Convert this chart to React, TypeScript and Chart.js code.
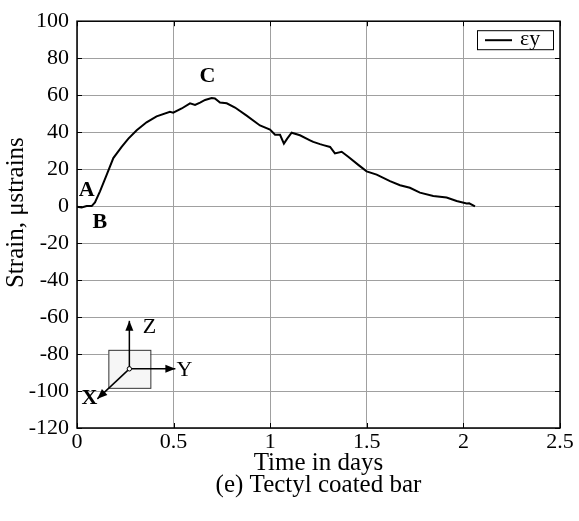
import React, { useEffect, useRef } from "react";
import { Chart, registerables } from "chart.js";

Chart.register(...registerables);

const timeDays: number[] = [0, 0.024, 0.05, 0.076, 0.093, 0.119, 0.154, 0.188, 0.231, 0.266, 0.309, 0.36, 0.412, 0.481, 0.498, 0.542, 0.585, 0.611, 0.637, 0.663, 0.697, 0.714, 0.74, 0.775, 0.818, 0.878, 0.947, 0.999, 1.025, 1.051, 1.071, 1.088, 1.111, 1.154, 1.206, 1.223, 1.258, 1.275, 1.31, 1.335, 1.37, 1.404, 1.456, 1.499, 1.551, 1.62, 1.672, 1.723, 1.775, 1.844, 1.913, 1.965, 2.017, 2.03, 2.06];
const strainEy: number[] = [-0.3, -0.7, 0, 0, 2, 8, 17, 26, 32, 36.5, 41, 45.3, 48.5, 51, 50.5, 52.8, 55.6, 54.7, 56, 57.4, 58.4, 58.2, 56, 55.6, 53.3, 48.9, 43.6, 41.4, 38.6, 38.6, 33.8, 36.5, 39.7, 38.3, 35.6, 34.7, 33.5, 33, 32, 28.5, 29.4, 26.7, 22.3, 18.8, 17, 13.5, 11.3, 9.9, 7.3, 5.5, 4.6, 2.8, 1.4, 1.5, -0.2];

const xTicks: number[] = [0, 0.5, 1, 1.5, 2, 2.5];
const yTicks: number[] = [-120, -100, -80, -60, -40, -20, 0, 20, 40, 60, 80, 100];

const seriesLabel = "\u03b5y";
const xTitle = "Time in days";
const caption = "(e) Tectyl coated bar";
const yTitle = "Strain, \u03bcstrains";

// point labels: [text, time, strain]
const pointLabels: [string, number, number][] = [
  ["A", 0.05, 8.5],
  ["B", 0.118, -9],
  ["C", 0.675, 70],
];
const iconOrigin: [number, number] = [0.271, -88];

const SERIF = '"Liberation Serif", "Times New Roman", serif';

const decor = {
  id: "decor",
  afterDraw(chart: any) {
    const { ctx, chartArea: a, scales } = chart;
    const xs = scales.x, ys = scales.y;
    ctx.save();
    // inner tick marks
    ctx.strokeStyle = "#000";
    ctx.lineWidth = 1;
    ctx.beginPath();
    for (const t of xTicks) {
      const px = Math.round(xs.getPixelForValue(t)) + 0.5;
      ctx.moveTo(px, a.bottom); ctx.lineTo(px, a.bottom - 5);
      ctx.moveTo(px, a.top); ctx.lineTo(px, a.top + 5);
    }
    for (const v of yTicks) {
      const py = Math.round(ys.getPixelForValue(v)) + 0.5;
      ctx.moveTo(a.left, py); ctx.lineTo(a.left + 5, py);
      ctx.moveTo(a.right, py); ctx.lineTo(a.right - 5, py);
    }
    ctx.stroke();
    // frame
    ctx.lineWidth = 1.5;
    ctx.strokeRect(a.left, a.top, a.right - a.left, a.bottom - a.top);

    // point labels
    ctx.fillStyle = "#000";
    ctx.font = `bold 22px ${SERIF}`;
    ctx.textAlign = "center";
    ctx.textBaseline = "middle";
    for (const [txt, t, v] of pointLabels) {
      ctx.fillText(txt, xs.getPixelForValue(t), ys.getPixelForValue(v));
    }

    // coordinate icon
    const ox = xs.getPixelForValue(iconOrigin[0]);
    const oy = ys.getPixelForValue(iconOrigin[1]);
    ctx.fillStyle = "#f6f6f6";
    ctx.fillRect(ox - 21, oy - 19, 42, 38);
    ctx.lineWidth = 1;
    ctx.strokeStyle = "#333";
    ctx.strokeRect(ox - 21 + 0.5, oy - 19 + 0.5, 42, 38);
    const arrow = (x2: number, y2: number) => {
      ctx.strokeStyle = "#000";
      ctx.fillStyle = "#000";
      ctx.lineWidth = 1.5;
      ctx.beginPath();
      ctx.moveTo(ox, oy);
      ctx.lineTo(x2, y2);
      ctx.stroke();
      const ang = Math.atan2(y2 - oy, x2 - ox);
      const L = 10, W = 4;
      ctx.beginPath();
      ctx.moveTo(x2, y2);
      ctx.lineTo(x2 - L * Math.cos(ang) + W * Math.sin(ang), y2 - L * Math.sin(ang) - W * Math.cos(ang));
      ctx.lineTo(x2 - L * Math.cos(ang) - W * Math.sin(ang), y2 - L * Math.sin(ang) + W * Math.cos(ang));
      ctx.closePath();
      ctx.fill();
    };
    arrow(ox, oy - 48);
    arrow(ox + 46, oy);
    arrow(ox - 32, oy + 30);
    ctx.beginPath();
    ctx.fillStyle = "#fff";
    ctx.strokeStyle = "#000";
    ctx.lineWidth = 1;
    ctx.arc(ox, oy, 2.2, 0, Math.PI * 2);
    ctx.fill();
    ctx.stroke();
    ctx.fillStyle = "#000";
    ctx.font = `22px ${SERIF}`;
    ctx.fillText("Z", ox + 20, oy - 42);
    ctx.fillText("Y", ox + 55, oy + 1);
    ctx.font = `bold 22px ${SERIF}`;
    ctx.fillText("X", ox - 40, oy + 29);

    // legend box
    const bw = 76, bh = 19;
    const bx = a.right - 7 - bw, by = a.top + 9;
    ctx.fillStyle = "#fff";
    ctx.fillRect(bx, by, bw, bh);
    ctx.strokeStyle = "#000";
    ctx.lineWidth = 1;
    ctx.strokeRect(bx + 0.5, by + 0.5, bw, bh);
    ctx.lineWidth = 2;
    ctx.beginPath();
    ctx.moveTo(bx + 8, by + bh / 2 + 0.5);
    ctx.lineTo(bx + 35, by + bh / 2 + 0.5);
    ctx.stroke();
    ctx.fillStyle = "#000";
    ctx.font = `22px ${SERIF}`;
    ctx.textAlign = "left";
    ctx.fillText(chart.data.datasets[0].label, bx + 43, by + bh / 2);

    // y axis title
    ctx.save();
    ctx.translate(16, (a.top + a.bottom) / 2 - 12);
    ctx.rotate(-Math.PI / 2);
    ctx.textAlign = "center";
    ctx.font = `25px ${SERIF}`;
    ctx.fillText(yTitle, 0, 0);
    ctx.restore();

    ctx.restore();
  },
};

export default function App() {
  const ref = useRef<HTMLCanvasElement | null>(null);
  useEffect(() => {
    if (!ref.current) return;
    const chart = new Chart(ref.current, {
      type: "line",
      data: {
        datasets: [
          {
            label: seriesLabel,
            data: timeDays.map((t, i) => ({ x: t, y: strainEy[i] })),
            borderColor: "#000",
            borderWidth: 2,
            pointRadius: 0,
            tension: 0,
            fill: false,
          },
        ],
      },
      options: {
        responsive: false,
        animation: false,
        devicePixelRatio: 1,
        layout: { padding: { top: 14, right: 19, left: 0, bottom: 0 } },
        plugins: { legend: { display: false }, tooltip: { enabled: false } },
        scales: {
          x: {
            type: "linear",
            min: 0,
            max: 2.5,
            afterFit: (s: any) => { s.height = 93; },
            afterBuildTicks: (s: any) => { s.ticks = xTicks.map((v) => ({ value: v })); },
            grid: { color: "#a0a0a0", lineWidth: 1, drawTicks: false },
            border: { display: false },
            ticks: {
              color: "#000",
              padding: 1,
              font: { family: SERIF, size: 22 },
              callback: (v: any) => String(v),
              maxRotation: 0,
            },
            title: {
              display: true,
              text: [xTitle, caption],
              color: "#000",
              font: { family: SERIF, size: 25, lineHeight: 0.88 },
              padding: { top: 0, bottom: 25 },
            },
          },
          y: {
            type: "linear",
            min: -120,
            max: 100,
            afterFit: (s: any) => { s.width = 77; },
            afterBuildTicks: (s: any) => { s.ticks = yTicks.map((v) => ({ value: v })); },
            grid: { color: "#a0a0a0", lineWidth: 1, drawTicks: false },
            border: { display: false },
            ticks: {
              color: "#000",
              padding: 8,
              font: { family: SERIF, size: 22 },
              callback: (v: any) => String(v),
            },
          },
        },
      },
      plugins: [decor],
    });
    return () => chart.destroy();
  }, []);
  return (
    <canvas
      ref={ref}
      width={579}
      height={521}
      style={{ position: "absolute", left: 0, top: 0, width: 579, height: 521 }}
    />
  );
}
